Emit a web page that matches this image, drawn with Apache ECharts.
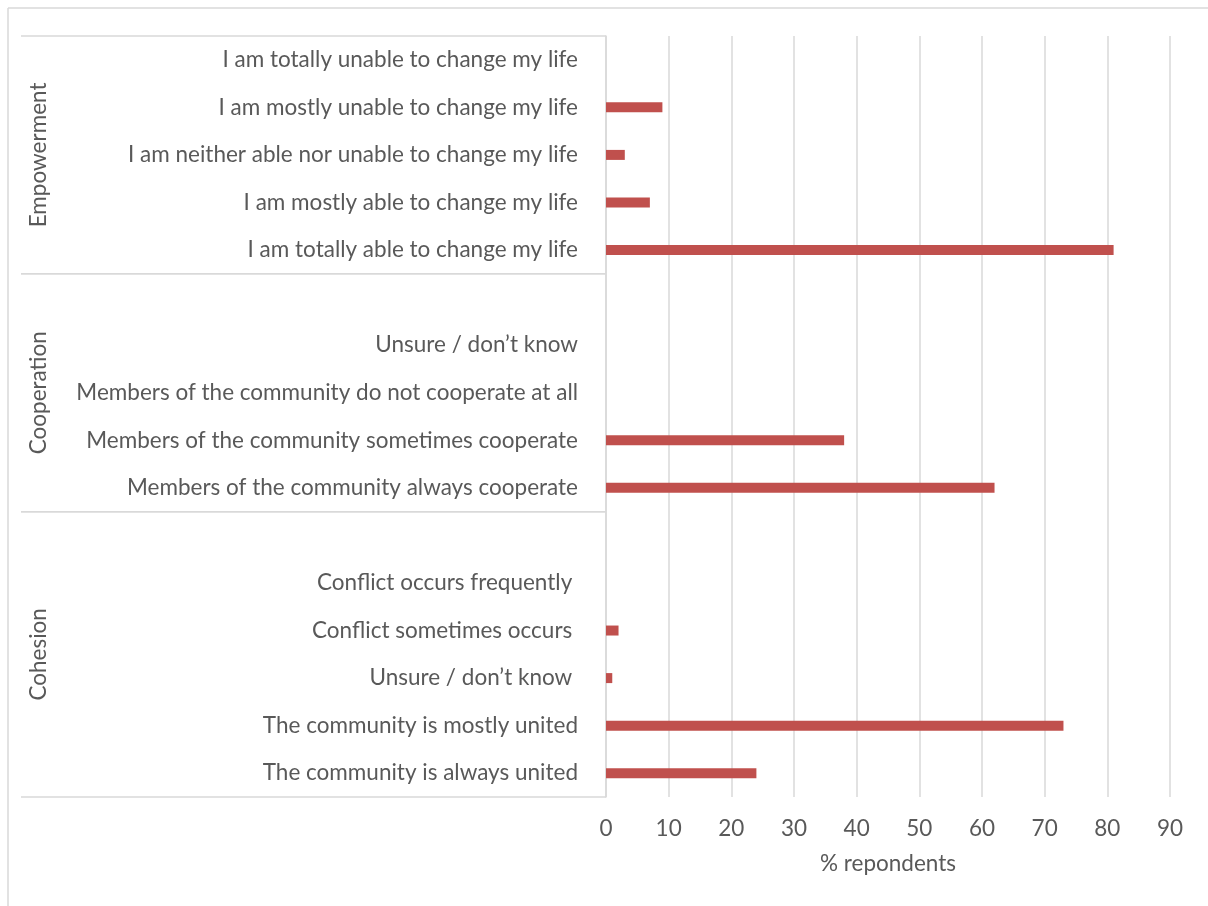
<!DOCTYPE html>
<html>
<head>
<meta charset="utf-8">
<script src="https://cdn.jsdelivr.net/npm/echarts@6/dist/echarts.min.js"></script>
<style>
html,body{margin:0;padding:0;background:#fff;}
#chart{width:1208px;height:906px;}
</style>
</head>
<body>
<div id="chart"></div>
<script>
// Categories, top to bottom (blank rows separate the groups)
const categories = [
  "I am totally unable to change my life",
  "I am mostly unable to change my life",
  "I am neither able nor unable to change my life",
  "I am mostly able to change my life",
  "I am totally able to change my life",
  "",
  "Unsure / don\u2019t know",
  "Members of the community do not cooperate at all",
  "Members of the community sometimes cooperate",
  "Members of the community always cooperate",
  "",
  "Conflict occurs frequently ",
  "Conflict sometimes occurs ",
  "Unsure / don\u2019t know ",
  "The community is mostly united",
  "The community is always united"
];
// % respondents
const values = [0, 9, 3, 7, 81, null, 0, 0, 38, 62, null, 0, 2, 1, 73, 24];

// Category groups (row index ranges, inclusive)
const groupNames = ["Empowerment", "Cooperation", "Cohesion"];
const groupStart = [0, 5, 10];
const groupEnd = [4, 9, 15];

const xTicks = [0, 10, 20, 30, 40, 50, 60, 70, 80, 90];
const xTitle = "% repondents";

const FONT = "Lato";
const FS = 22.5;
const TXT = "#595959";
const LINE = "#d9d9d9";

const chart = echarts.init(document.getElementById('chart'), null, {renderer: 'canvas'});

const groupData = groupNames.map((n, i) => [0, groupStart[i], groupEnd[i]]);

chart.setOption({
  animation: false,
  backgroundColor: '#fff',
  textStyle: {fontFamily: FONT},
  graphic: [
    {type: 'line', shape: {x1: 8, y1: 8, x2: 1208, y2: 8}, style: {stroke: LINE, lineWidth: 1.5}},
    {type: 'line', shape: {x1: 8, y1: 8, x2: 8, y2: 906}, style: {stroke: LINE, lineWidth: 1.5}}
  ],
  grid: {left: 606, right: 38, top: 36, bottom: 109, containLabel: false},
  xAxis: {
    type: 'value',
    min: xTicks[0],
    max: xTicks[xTicks.length - 1],
    interval: 10,
    axisLine: {show: false},
    axisTick: {show: false},
    splitLine: {show: true, lineStyle: {color: LINE, width: 1.5}},
    axisLabel: {fontFamily: FONT, fontSize: FS, color: TXT, margin: 20},
    name: xTitle,
    nameLocation: 'middle',
    nameGap: 55,
    nameTextStyle: {fontFamily: FONT, fontSize: FS, color: TXT}
  },
  yAxis: {
    type: 'category',
    inverse: true,
    data: categories,
    axisLine: {show: true, lineStyle: {color: LINE, width: 1.5}},
    axisTick: {show: false},
    axisLabel: {fontFamily: FONT, fontSize: FS, color: TXT, margin: 28, interval: 0}
  },
  series: [
    {
      type: 'bar',
      data: values,
      barWidth: 10,
      itemStyle: {color: '#C0504D'},
      z: 3
    },
    {
      type: 'custom',
      coordinateSystem: 'cartesian2d',
      data: groupData,
      encode: {x: 0, y: 1},
      clip: false,
      silent: true,
      z: 2,
      renderItem: function (params, api) {
        const s = api.value(1), e = api.value(2);
        const band = api.size([0, 1])[1];
        const yTop = api.coord([0, s])[1] - band / 2;
        const yBot = api.coord([0, e])[1] + band / 2;
        const xAxisPos = params.coordSys.x;
        const xLeft = 21;
        const children = [
          {type: 'line', shape: {x1: xLeft, y1: yTop, x2: xAxisPos, y2: yTop}, style: {stroke: LINE, lineWidth: 1.5}},
          {type: 'line', shape: {x1: xLeft, y1: yBot, x2: xAxisPos, y2: yBot}, style: {stroke: LINE, lineWidth: 1.5}},
          {type: 'text', x: 39, y: (yTop + yBot) / 2, rotation: Math.PI / 2,
            style: {text: groupNames[params.dataIndex], fontFamily: FONT, fontSize: FS, fill: TXT, align: 'center', verticalAlign: 'middle'}}
        ];
        return {type: 'group', children: children};
      }
    }
  ]
});
</script>
</body>
</html>
